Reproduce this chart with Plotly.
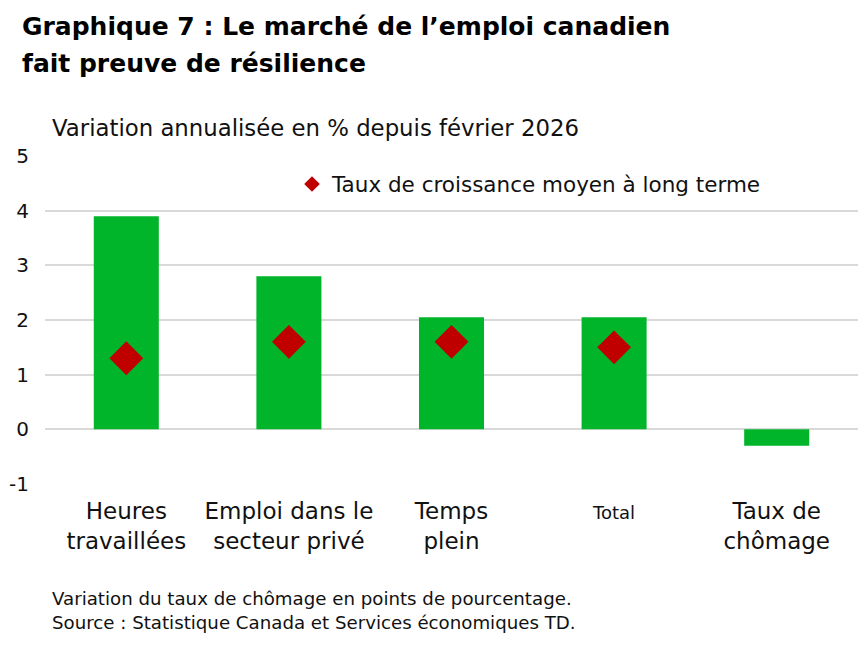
import plotly.graph_objects as go

# données
categories = ["Heures<br>travaillées", "Emploi dans le<br>secteur privé", "Temps<br>plein",
              "<span style='font-size:18px'>Total</span>", "Taux de<br>chômage"]
variation = [3.9, 2.8, 2.05, 2.05, -0.3]
moyenne_lt = [1.3, 1.6, 1.6, 1.5, None]
y_ticks = [-1, 0, 1, 2, 3, 4, 5]
y_ticklabels = ["-1", "0", "1", "2", "3", "4", "5"]

green = "#00B52A"
red = "#C00000"
font_family = "DejaVu Sans"

# page body adds ~8px, so the figure is 860x640 and plot area is 148..476 x 37..850
def py(p):
    return (476 - (p - 8)) / 328.0

def px(p):
    return ((p - 8) - 37) / 813.0

fig = go.Figure()
fig.add_trace(go.Bar(
    x=list(range(len(categories))), y=variation,
    marker=dict(color=green, line=dict(width=0)),
    showlegend=False, hoverinfo="y",
))
fig.add_trace(go.Scatter(
    x=list(range(len(categories))), y=moyenne_lt, mode="markers",
    marker=dict(symbol="diamond", size=26, color=red),
    name="Taux de croissance moyen à long terme",
))

fig.update_layout(
    width=860, height=640,
    margin=dict(l=37, r=10, t=148, b=164, autoexpand=False),
    plot_bgcolor="white", paper_bgcolor="white",
    font=dict(family=font_family, size=21, color="#111111"),
    bargap=0.6,
    legend=dict(x=px(292), y=py(184), xanchor="left", yanchor="middle",
                bgcolor="rgba(0,0,0,0)", font=dict(size=21.5), itemsizing="constant"),
    xaxis=dict(
        tickmode="array", tickvals=list(range(len(categories))), ticktext=categories,
        range=[-0.5, len(categories) - 0.5], showgrid=False, zeroline=False,
        showline=False, ticks="", ticklabelstandoff=11, automargin=False,
        tickfont=dict(size=23),
    ),
    yaxis=dict(
        range=[-1, 5], tickvals=y_ticks, ticktext=y_ticklabels, showgrid=True,
        gridcolor="#D9D9D9", gridwidth=2, zeroline=False, showline=False, ticks="",
        automargin=False, ticklabelstandoff=15, tickfont=dict(size=20),
    ),
    annotations=[
        dict(text="<b>Graphique 7 : Le marché de l’emploi canadien</b>",
             x=px(20), y=py(26), xref="paper", yref="paper", xanchor="left", yanchor="middle",
             showarrow=False, font=dict(size=25, color="#000000")),
        dict(text="<b>fait preuve de résilience</b>",
             x=px(20), y=py(63), xref="paper", yref="paper", xanchor="left", yanchor="middle",
             showarrow=False, font=dict(size=25, color="#000000")),
        dict(text="Variation annualisée en % depuis février 2026",
             x=px(50), y=py(128), xref="paper", yref="paper", xanchor="left", yanchor="middle",
             showarrow=False, font=dict(size=22.8)),
        dict(text="Variation du taux de chômage en points de pourcentage.<br>Source : Statistique Canada et Services économiques TD.",
             x=px(50), y=py(610), xref="paper", yref="paper", xanchor="left", yanchor="middle",
             align="left", showarrow=False, font=dict(size=18.2)),
    ],
)

fig.write_html("out.html")
